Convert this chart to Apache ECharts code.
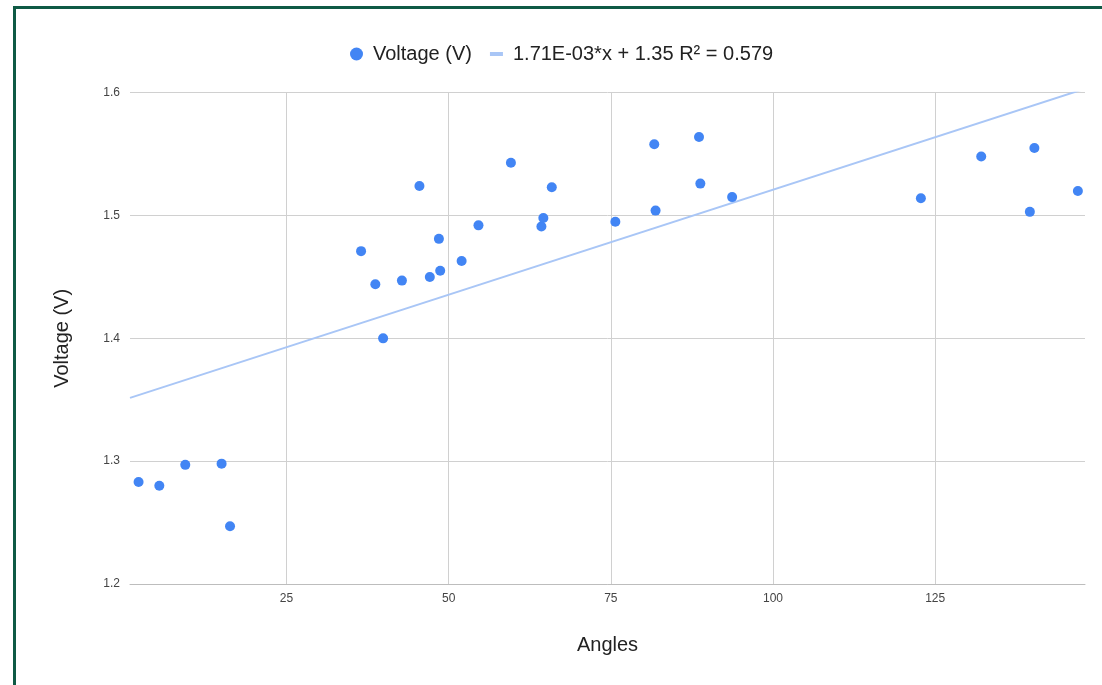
<!DOCTYPE html>
<html>
<head>
<meta charset="utf-8">
<script src="https://cdn.jsdelivr.net/npm/echarts@6/dist/echarts.min.js"></script>
<style>
  html, body { margin: 0; padding: 0; width: 1102px; height: 685px; overflow: hidden; background: #fff; }
  #frame { position: absolute; left: 13px; top: 6px; width: 2000px; height: 2000px; border: 3px solid #0f5a45; box-sizing: border-box; }
  #chart { position: absolute; left: 0; top: 0; width: 1102px; height: 685px; }
</style>
</head>
<body>
<div id="frame"></div>
<div id="chart"></div>
<script>
// Measured angles (degrees) and the voltage read at each one
const angles = [2.2, 5.4, 9.4, 15.0, 16.3, 36.5, 38.7, 39.9, 42.8, 45.5,
                47.1, 48.5, 48.7, 52.0, 54.6, 59.6, 64.3, 64.6, 65.9, 75.7,
                81.7, 81.9, 88.6, 88.8, 93.7, 122.8, 132.1, 139.6, 140.3, 147.0];
const voltages = [1.283, 1.280, 1.297, 1.298, 1.247, 1.471, 1.444, 1.400, 1.447, 1.524,
                  1.450, 1.481, 1.455, 1.463, 1.492, 1.543, 1.491, 1.498, 1.523, 1.495,
                  1.558, 1.504, 1.564, 1.526, 1.515, 1.514, 1.548, 1.503, 1.555, 1.520];

// Linear trendline
const trendSlope = 1.71e-3;
const trendIntercept = 1.35;
const trendName = '1.71E-03*x + 1.35 R\u00B2 = 0.579';
const seriesName = 'Voltage (V)';

// Axis ticks
const xTicks = [25, 50, 75, 100, 125];
const xRange = [0.88, 148.1];
const yRange = [1.2, 1.6];
const yStep = 0.1;

const points = angles.map((a, i) => [a, voltages[i]]);
const trendPoints = xRange.map(x => [x, trendSlope * x + trendIntercept]);

const FONT = '"Liberation Sans", Arial, sans-serif';

const chart = echarts.init(document.getElementById('chart'), null, { renderer: 'canvas' });
chart.setOption({
  backgroundColor: 'transparent',
  animation: false,
  textStyle: { fontFamily: FONT },
  legend: {
    left: 345,
    top: 39,
    itemWidth: 13,
    itemHeight: 13,
    itemGap: 18,
    textStyle: { fontSize: 20, color: '#222', fontFamily: FONT, padding: [0, 0, 0, 5] },
    data: [
      { name: seriesName, icon: 'circle' },
      { name: trendName, icon: 'path://M0,0 H13 V4 H0 Z' }
    ]
  },
  grid: { left: 130, right: 17, top: 92.7, bottom: 101, containLabel: false },
  xAxis: {
    type: 'value',
    min: xRange[0],
    max: xRange[1],
    name: 'Angles',
    nameLocation: 'middle',
    nameGap: 51,
    nameTextStyle: { fontSize: 20, color: '#222', fontFamily: FONT },
    axisLine: { show: true, onZero: false, lineStyle: { color: '#bdbdbd', width: 1 } },
    axisTick: { show: false, customValues: xTicks },
    axisLabel: { customValues: xTicks, fontSize: 12, color: '#444', margin: 9, fontFamily: FONT },
    splitLine: { show: true, lineStyle: { color: '#d0d0d0', width: 1 } }
  },
  yAxis: {
    type: 'value',
    min: yRange[0],
    max: yRange[1],
    interval: yStep,
    name: 'Voltage (V)',
    nameLocation: 'middle',
    nameGap: 58,
    nameTextStyle: { fontSize: 20, color: '#222', fontFamily: FONT },
    axisLine: { show: false },
    axisTick: { show: false },
    axisLabel: { fontSize: 12, color: '#444', margin: 10, fontFamily: FONT,
                 formatter: v => v.toFixed(1) },
    splitLine: { show: true, lineStyle: { color: '#d0d0d0', width: 1 } }
  },
  series: [
    {
      name: trendName,
      type: 'line',
      data: trendPoints,
      symbol: 'none',
      color: '#a9c6f6',
      lineStyle: { color: '#a9c6f6', width: 2 },
      itemStyle: { color: '#a9c6f6' },
      clip: true,
      z: 1
    },
    {
      name: seriesName,
      type: 'scatter',
      data: points,
      symbolSize: 10,
      itemStyle: { color: '#4285f4', opacity: 1 },
      z: 2
    }
  ]
});
</script>
</body>
</html>
